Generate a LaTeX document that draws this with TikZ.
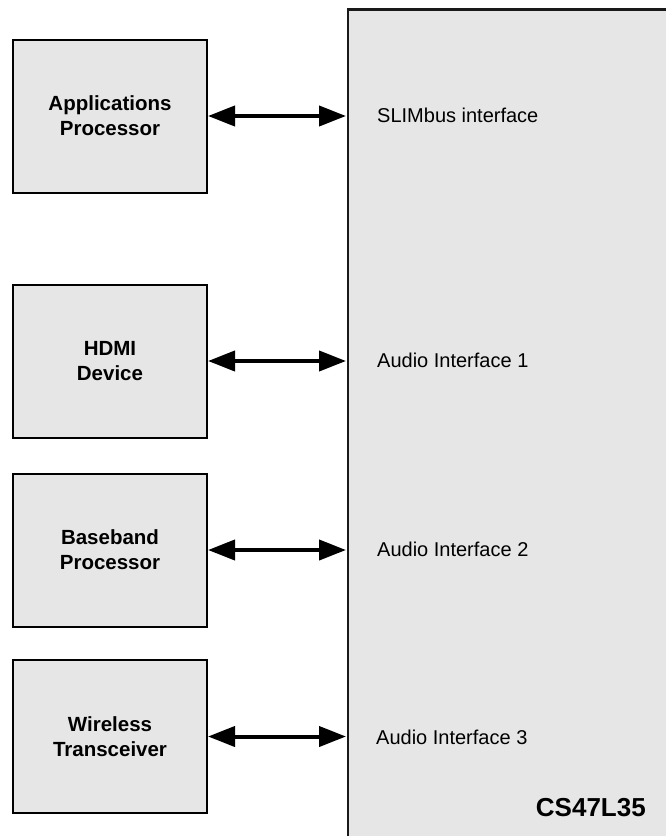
\documentclass[tikz,border=0pt]{standalone}
\usepackage{fontspec}
\setmainfont{Liberation Sans}
\usetikzlibrary{arrows.meta}
\definecolor{boxgray}{HTML}{E6E6E6}
\tikzset{
  devbox/.style={draw=black, line width=2pt, fill=boxgray, minimum width=194pt, minimum height=153pt, inner sep=0pt, align=center, font=\fontsize{20.5}{25}\selectfont\bfseries},
  chipbox/.style={draw=black!90, line width=2.2pt, fill=boxgray, minimum width=340pt, minimum height=850pt, inner sep=0pt},
  portlabel/.style={anchor=base west, inner sep=0pt, font=\fontsize{20}{24}\selectfont},
  chiplabel/.style={anchor=base east, inner sep=0pt, font=\fontsize{26}{30}\selectfont\bfseries},
  biarrow/.style={line width=4pt, {Triangle[length=27pt,width=20pt]}-{Triangle[length=27pt,width=20pt]}}
}
\begin{document}
\begin{tikzpicture}[x=1pt,y=-1pt]
\useasboundingbox (0,0) rectangle (666,836);
\clip (0,0) rectangle (666,836);
\fill[white] (0,0) rectangle (666,836);
\node[chipbox] (chip) at (518,434.5) {};
\node[devbox] (app) at (110,116) {Applications\\Processor};
\node[devbox] (hdmi) at (110,361) {HDMI\\Device};
\node[devbox] (bb) at (110,550) {Baseband\\Processor};
\node[devbox] (wl) at (110,736.5) {Wireless\\Transceiver};
\coordinate (t1) at (346,116);
\coordinate (t2) at (346,361);
\coordinate (t3) at (346,550);
\coordinate (t4) at (346,736.5);
\draw[biarrow] (app.east) -- (t1);
\draw[biarrow] (hdmi.east) -- (t2);
\draw[biarrow] (bb.east) -- (t3);
\draw[biarrow] (wl.east) -- (t4);
\node[portlabel] (l1) at (377,122) {SLIMbus interface};
\node[portlabel] (l2) at (377,367) {Audio Interface 1};
\node[portlabel] (l3) at (377,556) {Audio Interface 2};
\node[portlabel] (l4) at (376,744) {Audio Interface 3};
\node[chiplabel] (cs) at (646,816.5) {CS47L35};
\end{tikzpicture}
\end{document}
